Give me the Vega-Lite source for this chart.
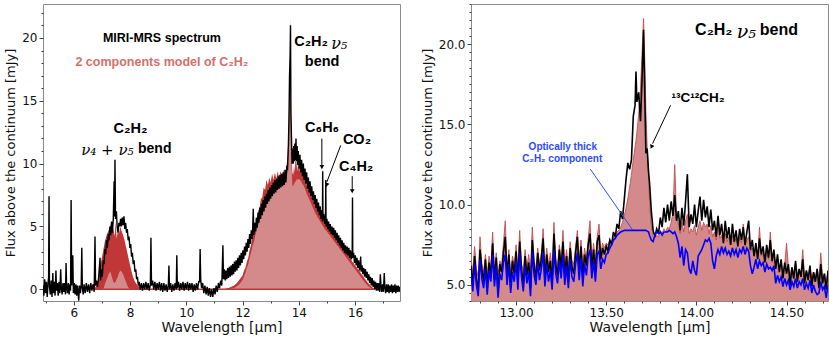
{
"$schema": "https://vega.github.io/schema/vega-lite/v6.json",
"padding": {"left": 4, "top": 3, "right": 0, "bottom": 0},
"spacing": 19,
"config": {
 "view": {"stroke": "#8a8a8a", "strokeWidth": 1},
 "axis": {"domain": false, "grid": false, "labelFont": "DejaVu Sans", "labelFontSize": 12, "labelColor": "#111", "titleFont": "DejaVu Sans", "titleFontWeight": "normal", "titleColor": "#111", "tickColor": "#444", "labelPadding": 2, "labelFlush": false, "tickSize": 4},
 "text": {"font": "Liberation Sans", "fontWeight": "bold"}
},
"datasets": {
 "one": [{}],
 "leftObs": [
  {"w":4.9,"f":0.3},{"w":4.93,"f":-0.5},{"w":4.96,"f":0.8},{"w":4.99,"f":-0.3},{"w":5.02,"f":0.6},{"w":5.05,"f":-0.6},{"w":5.08,"f":0.5},{"w":5.1,"f":1.0},{"w":5.115,"f":7.4},{"w":5.13,"f":0.2},{"w":5.16,"f":-0.4},{"w":5.19,"f":0.7},{"w":5.22,"f":-0.6},{"w":5.25,"f":1.3},{"w":5.27,"f":-0.3},{"w":5.3,"f":0.6},{"w":5.33,"f":-0.5},{"w":5.36,"f":1.5},{"w":5.38,"f":-0.1},{"w":5.41,"f":0.5},{"w":5.44,"f":-0.5},{"w":5.47,"f":0.6},{"w":5.5,"f":-0.3},{"w":5.53,"f":1.6},{"w":5.55,"f":0.1},{"w":5.58,"f":-0.4},{"w":5.61,"f":0.5},{"w":5.64,"f":-0.2},{"w":5.67,"f":0.5},{"w":5.7,"f":-0.4},{"w":5.72,"f":2.1},{"w":5.74,"f":0.2},{"w":5.77,"f":-0.3},{"w":5.8,"f":0.5},{"w":5.83,"f":-0.4},{"w":5.86,"f":0.4},{"w":5.88,"f":-0.1},{"w":5.9,"f":7.1},{"w":5.92,"f":0.3},{"w":5.96,"f":2.7},{"w":5.98,"f":-0.3},{"w":6.01,"f":0.5},{"w":6.04,"f":-0.4},{"w":6.07,"f":0.4},{"w":6.1,"f":-0.5},{"w":6.13,"f":0.3},{"w":6.17,"f":-0.9},{"w":6.2,"f":0.3},{"w":6.23,"f":-0.3},{"w":6.26,"f":0.4},{"w":6.28,"f":3.3},{"w":6.3,"f":0.1},{"w":6.33,"f":-0.4},{"w":6.36,"f":0.4},{"w":6.4,"f":-0.3},{"w":6.44,"f":0.5},{"w":6.48,"f":-0.2},{"w":6.52,"f":0.4},{"w":6.56,"f":-0.3},{"w":6.6,"f":0.5},{"w":6.64,"f":-0.1},{"w":6.68,"f":0.4},{"w":6.72,"f":-0.2},{"w":6.75,"f":4.2},{"w":6.77,"f":0.3},{"w":6.8,"f":0.7},{"w":6.84,"f":0.2},{"w":6.88,"f":1.0},{"w":6.93,"f":2.5},{"w":6.95,"f":0.7},{"w":6.98,"f":1.6},{"w":7.01,"f":1.0},{"w":7.04,"f":2.3},{"w":7.07,"f":2.0},{"w":7.1,"f":3.2},{"w":7.13,"f":2.8},{"w":7.16,"f":3.9},{"w":7.19,"f":3.3},{"w":7.22,"f":4.4},{"w":7.25,"f":3.9},{"w":7.28,"f":5.0},{"w":7.31,"f":4.3},{"w":7.34,"f":5.4},{"w":7.37,"f":4.5},{"w":7.4,"f":5.6},{"w":7.43,"f":8.6},{"w":7.445,"f":5.8},{"w":7.46,"f":10.3},{"w":7.48,"f":5.6},{"w":7.51,"f":6.2},{"w":7.54,"f":4.9},{"w":7.57,"f":4.5},{"w":7.6,"f":5.3},{"w":7.63,"f":5.0},{"w":7.66,"f":5.6},{"w":7.69,"f":5.0},{"w":7.72,"f":5.7},{"w":7.75,"f":5.1},{"w":7.78,"f":5.8},{"w":7.81,"f":4.8},{"w":7.84,"f":5.3},{"w":7.87,"f":4.5},{"w":7.9,"f":4.8},{"w":7.93,"f":3.9},{"w":7.96,"f":4.2},{"w":7.99,"f":3.3},{"w":8.02,"f":3.6},{"w":8.05,"f":2.6},{"w":8.08,"f":2.9},{"w":8.11,"f":2.0},{"w":8.14,"f":2.3},{"w":8.17,"f":1.4},{"w":8.2,"f":1.6},{"w":8.23,"f":0.8},{"w":8.26,"f":1.0},{"w":8.29,"f":0.3},{"w":8.32,"f":0.6},{"w":8.36,"f":0.0},{"w":8.4,"f":0.5},{"w":8.44,"f":-0.1},{"w":8.48,"f":0.5},{"w":8.52,"f":0.0},{"w":8.56,"f":0.6},{"w":8.6,"f":0.0},{"w":8.64,"f":0.5},{"w":8.68,"f":-0.1},{"w":8.72,"f":0.4},{"w":8.74,"f":4.1},{"w":8.76,"f":0.3},{"w":8.8,"f":0.7},{"w":8.84,"f":0.0},{"w":8.88,"f":0.6},{"w":8.92,"f":-0.1},{"w":8.96,"f":0.5},{"w":9.0,"f":0.0},{"w":9.04,"f":0.6},{"w":9.08,"f":-0.1},{"w":9.12,"f":0.5},{"w":9.16,"f":-0.2},{"w":9.2,"f":0.5},{"w":9.24,"f":-0.1},{"w":9.28,"f":0.4},{"w":9.32,"f":-0.2},{"w":9.36,"f":0.4},{"w":9.38,"f":1.9},{"w":9.4,"f":0.0},{"w":9.44,"f":0.5},{"w":9.48,"f":-0.2},{"w":9.52,"f":0.4},{"w":9.56,"f":-0.1},{"w":9.6,"f":0.5},{"w":9.64,"f":0.0},{"w":9.66,"f":2.7},{"w":9.68,"f":0.1},{"w":9.72,"f":0.6},{"w":9.76,"f":-0.1},{"w":9.8,"f":0.5},{"w":9.84,"f":0.0},{"w":9.88,"f":0.6},{"w":9.92,"f":-0.1},{"w":9.96,"f":0.5},{"w":10.0,"f":0.0},{"w":10.04,"f":0.6},{"w":10.08,"f":-0.1},{"w":10.12,"f":0.5},{"w":10.16,"f":0.0},{"w":10.2,"f":0.5},{"w":10.24,"f":-0.2},{"w":10.28,"f":0.4},{"w":10.32,"f":-0.1},{"w":10.36,"f":0.5},{"w":10.4,"f":0.0},{"w":10.44,"f":0.6},{"w":10.47,"f":0.6},{"w":10.49,"f":3.2},{"w":10.51,"f":0.8},{"w":10.54,"f":0.1},{"w":10.58,"f":0.5},{"w":10.62,"f":-0.3},{"w":10.66,"f":0.3},{"w":10.7,"f":-0.4},{"w":10.74,"f":0.2},{"w":10.78,"f":-0.5},{"w":10.82,"f":0.1},{"w":10.86,"f":-0.6},{"w":10.9,"f":0.0},{"w":10.94,"f":-0.6},{"w":10.98,"f":0.1},{"w":11.02,"f":-0.4},{"w":11.06,"f":0.3},{"w":11.1,"f":-0.2},{"w":11.14,"f":0.5},{"w":11.18,"f":0.1},{"w":11.22,"f":0.7},{"w":11.26,"f":0.3},{"w":11.3,"f":3.5},
  {"w":11.32,"f":0.8},{"w":11.35,"f":1.6},{"w":11.38,"f":0.7},{"w":11.41,"f":1.5},{"w":11.44,"f":0.8},{"w":11.47,"f":1.7},{"w":11.5,"f":0.9},{"w":11.53,"f":1.8},{"w":11.56,"f":1.0},{"w":11.59,"f":1.9},{"w":11.62,"f":1.1},{"w":11.65,"f":2.0},{"w":11.68,"f":1.2},{"w":11.71,"f":2.2},{"w":11.74,"f":1.4},{"w":11.77,"f":2.3},{"w":11.8,"f":1.5},{"w":11.83,"f":2.5},{"w":11.86,"f":1.7},{"w":11.89,"f":2.7},{"w":11.92,"f":1.9},{"w":11.95,"f":2.9},{"w":11.98,"f":2.1},{"w":12.01,"f":3.1},{"w":12.04,"f":2.4},{"w":12.07,"f":3.4},{"w":12.1,"f":2.7},{"w":12.13,"f":3.7},{"w":12.16,"f":3.0},{"w":12.19,"f":4.0},{"w":12.22,"f":3.3},{"w":12.25,"f":4.4},{"w":12.28,"f":3.6},{"w":12.31,"f":4.7},{"w":12.34,"f":4.0},{"w":12.36,"f":4.9},{"w":12.38,"f":6.4},{"w":12.4,"f":4.3},{"w":12.43,"f":5.3},{"w":12.46,"f":4.6},{"w":12.49,"f":5.7},{"w":12.52,"f":4.9},{"w":12.55,"f":6.1},{"w":12.58,"f":5.3},{"w":12.61,"f":6.5},{"w":12.64,"f":5.6},{"w":12.67,"f":6.8},{"w":12.7,"f":5.9},{"w":12.73,"f":7.1},{"w":12.76,"f":6.2},{"w":12.79,"f":7.4},{"w":12.82,"f":6.5},{"w":12.85,"f":7.6},{"w":12.88,"f":6.8},{"w":12.91,"f":7.9},{"w":12.94,"f":7.0},{"w":12.97,"f":8.1},{"w":13.0,"f":7.2},{"w":13.03,"f":8.3},{"w":13.06,"f":7.4},{"w":13.09,"f":8.5},{"w":13.12,"f":7.6},{"w":13.15,"f":8.7},{"w":13.18,"f":7.7},{"w":13.21,"f":8.8},{"w":13.24,"f":7.9},{"w":13.27,"f":9.0},{"w":13.3,"f":8.0},{"w":13.33,"f":9.1},{"w":13.36,"f":8.1},{"w":13.39,"f":9.2},{"w":13.42,"f":8.2},{"w":13.45,"f":9.3},{"w":13.48,"f":8.3},{"w":13.51,"f":9.5},{"w":13.54,"f":8.5},{"w":13.57,"f":9.7},{"w":13.6,"f":9.6},{"w":13.63,"f":11.5},{"w":13.65,"f":13.5},{"w":13.67,"f":17.0},{"w":13.69,"f":18.5},{"w":13.705,"f":21.0},{"w":13.72,"f":14.0},{"w":13.74,"f":12.0},{"w":13.76,"f":10.0},{"w":13.78,"f":11.2},{"w":13.8,"f":10.0},{"w":13.82,"f":11.4},{"w":13.84,"f":10.2},{"w":13.86,"f":11.6},{"w":13.88,"f":10.3},{"w":13.9,"f":12.0},{"w":13.92,"f":10.2},{"w":13.94,"f":11.4},{"w":13.96,"f":9.9},{"w":13.98,"f":11.0},{"w":14.01,"f":9.6},{"w":14.04,"f":10.7},{"w":14.07,"f":9.3},{"w":14.1,"f":10.3},{"w":14.13,"f":9.0},{"w":14.16,"f":10.0},{"w":14.19,"f":8.7},{"w":14.22,"f":9.6},{"w":14.25,"f":8.4},{"w":14.28,"f":9.3},{"w":14.31,"f":8.0},{"w":14.34,"f":8.9},{"w":14.37,"f":7.7},{"w":14.4,"f":8.6},{"w":14.43,"f":7.4},{"w":14.46,"f":8.2},{"w":14.49,"f":7.1},{"w":14.52,"f":7.8},{"w":14.55,"f":6.8},{"w":14.58,"f":7.5},{"w":14.61,"f":6.5},{"w":14.64,"f":7.2},{"w":14.67,"f":6.2},{"w":14.7,"f":6.9},{"w":14.73,"f":5.9},{"w":14.76,"f":6.6},{"w":14.79,"f":5.6},{"w":14.82,"f":6.3},{"w":14.84,"f":5.4},{"w":14.85,"f":9.4},{"w":14.86,"f":5.5},{"w":14.89,"f":6.0},{"w":14.92,"f":5.2},{"w":14.95,"f":5.8},{"w":14.96,"f":8.7},{"w":14.97,"f":5.0},{"w":15.0,"f":5.6},{"w":15.03,"f":4.8},{"w":15.06,"f":5.4},{"w":15.09,"f":4.6},{"w":15.12,"f":5.2},{"w":15.15,"f":4.4},{"w":15.18,"f":5.0},{"w":15.21,"f":4.3},{"w":15.24,"f":4.9},{"w":15.27,"f":4.1},{"w":15.3,"f":4.7},{"w":15.33,"f":3.9},{"w":15.36,"f":4.5},{"w":15.39,"f":3.7},{"w":15.42,"f":4.3},{"w":15.45,"f":3.5},{"w":15.48,"f":4.1},{"w":15.51,"f":3.3},{"w":15.54,"f":3.9},{"w":15.57,"f":3.1},{"w":15.6,"f":3.7},{"w":15.63,"f":2.9},{"w":15.66,"f":3.5},{"w":15.69,"f":2.8},{"w":15.72,"f":3.4},{"w":15.75,"f":2.7},{"w":15.78,"f":3.3},{"w":15.81,"f":2.5},{"w":15.84,"f":3.1},{"w":15.87,"f":2.4},{"w":15.9,"f":2.9},{"w":15.91,"f":7.3},{"w":15.92,"f":2.5},{"w":15.95,"f":2.9},{"w":15.98,"f":2.1},{"w":16.01,"f":2.7},{"w":16.04,"f":1.9},{"w":16.07,"f":2.5},{"w":16.1,"f":1.7},{"w":16.13,"f":2.3},{"w":16.16,"f":1.5},{"w":16.19,"f":2.1},{"w":16.2,"f":2.6},{"w":16.22,"f":1.4},{"w":16.25,"f":1.9},{"w":16.28,"f":1.2},{"w":16.31,"f":1.7},{"w":16.34,"f":1.0},{"w":16.37,"f":1.6},{"w":16.4,"f":0.9},{"w":16.43,"f":1.4},{"w":16.46,"f":0.7},{"w":16.49,"f":1.2},{"w":16.52,"f":0.5},{"w":16.55,"f":1.0},{"w":16.58,"f":0.3},{"w":16.61,"f":0.9},{"w":16.64,"f":0.2},{"w":16.67,"f":0.7},{"w":16.7,"f":0.0},{"w":16.73,"f":0.6},{"w":16.76,"f":-0.1},{"w":16.79,"f":0.5},{"w":16.82,"f":-0.1},{"w":16.85,"f":0.5},{"w":16.88,"f":-0.2},{"w":16.9,"f":1.2},{"w":16.92,"f":0.4},{"w":16.95,"f":-0.2},{"w":16.98,"f":0.4},{"w":17.01,"f":-0.2},{"w":17.04,"f":1.3},{"w":17.06,"f":0.2},{"w":17.09,"f":-0.3},{"w":17.12,"f":0.4},{"w":17.15,"f":-0.2},{"w":17.18,"f":0.4},{"w":17.21,"f":-0.3},{"w":17.24,"f":0.3},{"w":17.27,"f":-0.2},{"w":17.3,"f":0.4},{"w":17.33,"f":-0.3},{"w":17.36,"f":0.3},{"w":17.39,"f":-0.2},{"w":17.42,"f":0.4},{"w":17.45,"f":-0.3},{"w":17.48,"f":0.3},{"w":17.51,"f":-0.2},{"w":17.54,"f":0.3},{"w":17.57,"f":-0.2},{"w":17.6,"f":0.2}
 ],
 "leftModel": [
  {"w":6.72,"top":0,"inner":0},{"w":6.8,"top":0.3,"inner":0},{"w":6.86,"top":0.8,"inner":0},{"w":6.92,"top":1.5,"inner":0},{"w":6.97,"top":2.2,"inner":0},{"w":7.02,"top":2.8,"inner":0},{"w":7.06,"top":3.3,"inner":0.1},{"w":7.1,"top":3.8,"inner":0.4},{"w":7.15,"top":4.2,"inner":0.7},{"w":7.2,"top":4.5,"inner":1.0},{"w":7.25,"top":4.8,"inner":1.3},{"w":7.3,"top":5.1,"inner":1.4},{"w":7.35,"top":5.3,"inner":1.0},{"w":7.4,"top":4.8,"inner":0.6},{"w":7.45,"top":4.2,"inner":0.5},{"w":7.48,"top":5.4,"inner":0.6},{"w":7.52,"top":4.0,"inner":0.8},{"w":7.56,"top":4.7,"inner":1.0},{"w":7.6,"top":4.4,"inner":1.3},{"w":7.65,"top":5.0,"inner":1.5},{"w":7.7,"top":4.6,"inner":1.4},{"w":7.75,"top":4.3,"inner":1.2},{"w":7.8,"top":3.9,"inner":0.9},{"w":7.85,"top":3.4,"inner":0.6},{"w":7.9,"top":2.9,"inner":0.3},{"w":7.95,"top":2.4,"inner":0.1},{"w":8.0,"top":1.9,"inner":0},{"w":8.05,"top":1.4,"inner":0},{"w":8.1,"top":1.0,"inner":0},{"w":8.15,"top":0.7,"inner":0},{"w":8.2,"top":0.5,"inner":0},{"w":8.25,"top":0.35,"inner":0},{"w":8.3,"top":0.25,"inner":0},{"w":8.35,"top":0.15,"inner":0},{"w":8.42,"top":0,"inner":0},
  {"w":11.3,"top":0,"inner":0},{"w":11.5,"top":0.1,"inner":0},{"w":11.7,"top":0.3,"inner":0.1},{"w":11.8,"top":0.5,"inner":0.25},{"w":11.9,"top":0.8,"inner":0.45},{"w":12.0,"top":1.1,"inner":0.75},{"w":12.05,"top":1.5,"inner":1.0},{"w":12.1,"top":1.7,"inner":1.3},{"w":12.15,"top":2.2,"inner":1.7},{"w":12.2,"top":2.5,"inner":2.0},{"w":12.25,"top":3.1,"inner":2.5},{"w":12.3,"top":3.5,"inner":2.9},{"w":12.35,"top":4.2,"inner":3.4},{"w":12.38,"top":5.8,"inner":3.6},{"w":12.41,"top":4.5,"inner":3.8},{"w":12.45,"top":5.2,"inner":4.3},{"w":12.5,"top":5.5,"inner":4.7},{"w":12.55,"top":6.2,"inner":5.1},{"w":12.6,"top":6.4,"inner":5.5},{"w":12.65,"top":7.2,"inner":5.9},{"w":12.7,"top":7.3,"inner":6.3},{"w":12.75,"top":8.1,"inner":6.6},{"w":12.8,"top":7.9,"inner":6.9},{"w":12.85,"top":8.7,"inner":7.2},{"w":12.9,"top":8.3,"inner":7.4},{"w":12.95,"top":8.9,"inner":7.6},{"w":13.0,"top":8.5,"inner":7.8},{"w":13.05,"top":9.2,"inner":7.9},{"w":13.1,"top":8.7,"inner":8.0},{"w":13.15,"top":9.3,"inner":8.1},{"w":13.2,"top":8.8,"inner":8.15},{"w":13.25,"top":9.4,"inner":8.2},{"w":13.3,"top":8.9,"inner":8.25},{"w":13.35,"top":9.4,"inner":8.3},{"w":13.4,"top":9.0,"inner":8.35},{"w":13.45,"top":9.5,"inner":8.4},{"w":13.5,"top":9.1,"inner":8.45},{"w":13.55,"top":9.6,"inner":8.6},{"w":13.6,"top":10.6,"inner":9.4},{"w":13.63,"top":12.2,"inner":11.0},{"w":13.66,"top":15.2,"inner":14.0},{"w":13.68,"top":18.0,"inner":17.0},{"w":13.7,"top":21.7,"inner":20.5},{"w":13.72,"top":15.5,"inner":14.2},{"w":13.74,"top":11.2,"inner":10.0},{"w":13.77,"top":9.3,"inner":8.3},{"w":13.8,"top":9.1,"inner":8.2},{"w":13.83,"top":9.8,"inner":8.4},{"w":13.86,"top":9.3,"inner":8.5},{"w":13.88,"top":11.5,"inner":8.6},{"w":13.9,"top":9.6,"inner":8.6},{"w":13.93,"top":10.3,"inner":8.8},{"w":13.96,"top":9.4,"inner":8.7},{"w":14.0,"top":9.9,"inner":8.8},{"w":14.04,"top":9.4,"inner":8.7},{"w":14.08,"top":9.8,"inner":8.6},{"w":14.12,"top":9.0,"inner":8.4},{"w":14.16,"top":9.3,"inner":8.3},{"w":14.2,"top":8.7,"inner":8.1},{"w":14.24,"top":8.9,"inner":7.9},{"w":14.28,"top":8.2,"inner":7.6},{"w":14.32,"top":8.4,"inner":7.4},{"w":14.36,"top":7.8,"inner":7.2},{"w":14.4,"top":7.9,"inner":7.0},{"w":14.44,"top":7.3,"inner":6.8},{"w":14.48,"top":7.5,"inner":6.6},{"w":14.52,"top":6.9,"inner":6.4},{"w":14.56,"top":7.1,"inner":6.2},{"w":14.6,"top":6.6,"inner":6.0},{"w":14.64,"top":6.7,"inner":5.85},{"w":14.68,"top":6.3,"inner":5.7},{"w":14.72,"top":6.4,"inner":5.55},{"w":14.76,"top":6.0,"inner":5.4},{"w":14.8,"top":6.1,"inner":5.25},{"w":14.84,"top":5.7,"inner":5.1},{"w":14.88,"top":5.8,"inner":4.95},{"w":14.92,"top":5.5,"inner":4.8},{"w":14.96,"top":5.6,"inner":4.7},{"w":15.0,"top":5.3,"inner":4.6},{"w":15.05,"top":5.2,"inner":4.45},{"w":15.1,"top":4.9,"inner":4.3},{"w":15.15,"top":4.9,"inner":4.15},{"w":15.2,"top":4.6,"inner":4.0},{"w":15.25,"top":4.5,"inner":3.85},{"w":15.3,"top":4.2,"inner":3.7},{"w":15.35,"top":4.2,"inner":3.55},{"w":15.4,"top":3.9,"inner":3.4},{"w":15.45,"top":3.8,"inner":3.25},{"w":15.5,"top":3.6,"inner":3.1},{"w":15.55,"top":3.5,"inner":2.95},{"w":15.6,"top":3.3,"inner":2.8},{"w":15.65,"top":3.2,"inner":2.65},{"w":15.7,"top":2.9,"inner":2.5},{"w":15.75,"top":2.8,"inner":2.35},{"w":15.8,"top":2.6,"inner":2.2},{"w":15.85,"top":2.5,"inner":2.05},{"w":15.9,"top":2.2,"inner":1.9},{"w":15.95,"top":2.1,"inner":1.75},{"w":16.0,"top":1.9,"inner":1.6},{"w":16.05,"top":1.8,"inner":1.45},{"w":16.1,"top":1.6,"inner":1.3},{"w":16.15,"top":1.5,"inner":1.15},{"w":16.2,"top":1.3,"inner":1.0},{"w":16.25,"top":1.15,"inner":0.85},{"w":16.3,"top":1.0,"inner":0.7},{"w":16.35,"top":0.85,"inner":0.55},{"w":16.4,"top":0.7,"inner":0.42},{"w":16.45,"top":0.55,"inner":0.3},{"w":16.5,"top":0.42,"inner":0.2},{"w":16.55,"top":0.3,"inner":0.12},{"w":16.6,"top":0.18,"inner":0.05},{"w":16.7,"top":0,"inner":0}
 ],
 "right": [
  {"w":12.75,"o":6.2,"m":6.6,"t":5.6},{"w":12.76,"o":5.0,"m":5.8,"t":4.6},{"w":12.77,"o":6.8,"m":7.4,"t":6.3},{"w":12.78,"o":5.4,"m":6.0,"t":5.0},{"w":12.79,"o":4.6,"m":5.5,"t":4.3},{"w":12.8,"o":7.2,"m":8.0,"t":6.6},{"w":12.81,"o":6.0,"m":6.3,"t":5.4},{"w":12.82,"o":5.2,"m":5.8,"t":4.8},{"w":12.83,"o":6.6,"m":6.9,"t":6.0},{"w":12.84,"o":4.8,"m":5.6,"t":4.4},{"w":12.85,"o":6.4,"m":6.8,"t":5.9},{"w":12.86,"o":5.6,"m":6.1,"t":5.2},{"w":12.87,"o":7.6,"m":8.3,"t":6.9},{"w":12.88,"o":5.3,"m":5.9,"t":4.9},{"w":12.89,"o":6.7,"m":7.0,"t":6.2},{"w":12.9,"o":4.5,"m":5.6,"t":4.2},{"w":12.91,"o":6.3,"m":6.5,"t":5.7},{"w":12.92,"o":5.8,"m":6.2,"t":5.3},{"w":12.93,"o":7.0,"m":7.6,"t":6.4},{"w":12.94,"o":8.0,"m":9.0,"t":6.9},{"w":12.95,"o":5.5,"m":6.0,"t":5.0},{"w":12.96,"o":6.9,"m":7.2,"t":6.3},{"w":12.97,"o":4.9,"m":5.8,"t":4.5},{"w":12.98,"o":6.5,"m":6.8,"t":5.8},{"w":12.99,"o":5.7,"m":6.2,"t":5.2},{"w":13.0,"o":7.1,"m":7.5,"t":6.5},{"w":13.01,"o":5.2,"m":6.0,"t":4.7},{"w":13.02,"o":7.7,"m":8.4,"t":7.0},{"w":13.03,"o":6.0,"m":6.3,"t":5.5},{"w":13.04,"o":5.0,"m":5.9,"t":4.6},{"w":13.05,"o":6.8,"m":7.2,"t":6.2},{"w":13.06,"o":5.6,"m":6.1,"t":5.1},{"w":13.07,"o":6.4,"m":6.9,"t":5.8},{"w":13.08,"o":4.8,"m":5.9,"t":4.3},{"w":13.09,"o":7.8,"m":8.6,"t":7.1},{"w":13.1,"o":6.2,"m":6.5,"t":5.6},{"w":13.11,"o":5.4,"m":6.0,"t":5.0},{"w":13.12,"o":7.0,"m":7.3,"t":6.4},{"w":13.13,"o":5.9,"m":6.3,"t":5.3},{"w":13.14,"o":6.6,"m":7.0,"t":6.0},{"w":13.15,"o":7.9,"m":8.5,"t":7.0},{"w":13.16,"o":5.3,"m":6.1,"t":4.9},{"w":13.17,"o":6.9,"m":7.3,"t":6.3},{"w":13.18,"o":5.8,"m":6.2,"t":5.2},{"w":13.19,"o":6.5,"m":7.0,"t":5.9},{"w":13.2,"o":5.1,"m":6.0,"t":4.7},{"w":13.21,"o":8.2,"m":8.9,"t":7.2},{"w":13.22,"o":6.3,"m":6.6,"t":5.7},{"w":13.23,"o":5.6,"m":6.2,"t":5.1},{"w":13.24,"o":7.2,"m":7.5,"t":6.5},{"w":13.25,"o":6.0,"m":6.4,"t":5.4},{"w":13.26,"o":7.7,"m":8.4,"t":6.9},{"w":13.27,"o":5.5,"m":6.2,"t":5.0},{"w":13.28,"o":6.8,"m":7.2,"t":6.2},{"w":13.29,"o":5.2,"m":6.1,"t":4.8},{"w":13.3,"o":7.3,"m":7.7,"t":6.6},{"w":13.31,"o":6.1,"m":6.5,"t":5.5},{"w":13.32,"o":5.7,"m":6.3,"t":5.2},{"w":13.33,"o":7.0,"m":7.4,"t":6.3},{"w":13.34,"o":8.0,"m":8.4,"t":7.0},{"w":13.35,"o":5.9,"m":6.4,"t":5.3},{"w":13.36,"o":7.4,"m":7.8,"t":6.7},{"w":13.37,"o":5.4,"m":6.3,"t":4.9},{"w":13.38,"o":6.9,"m":7.3,"t":6.3},{"w":13.39,"o":6.2,"m":6.6,"t":5.6},{"w":13.4,"o":7.5,"m":7.9,"t":6.8},{"w":13.41,"o":8.2,"m":9.0,"t":7.2},{"w":13.42,"o":6.0,"m":6.6,"t":5.4},{"w":13.43,"o":7.2,"m":7.6,"t":6.5},{"w":13.44,"o":5.8,"m":6.5,"t":5.2},{"w":13.45,"o":7.7,"m":8.0,"t":6.9},{"w":13.46,"o":8.1,"m":8.8,"t":7.1},{"w":13.47,"o":6.6,"m":7.0,"t":6.0},{"w":13.48,"o":7.3,"m":7.6,"t":6.6},{"w":13.49,"o":6.9,"m":7.3,"t":6.4},{"w":13.5,"o":7.4,"m":7.6,"t":6.9},{"w":13.51,"o":7.1,"m":7.5,"t":7.0},{"w":13.52,"o":7.8,"m":7.8,"t":7.3},{"w":13.53,"o":7.5,"m":7.7,"t":7.5},{"w":13.54,"o":8.3,"m":8.0,"t":7.8},{"w":13.55,"o":8.0,"m":8.1,"t":7.9},{"w":13.56,"o":8.8,"m":8.3,"t":8.1},{"w":13.57,"o":8.5,"m":8.4,"t":8.2},{"w":13.58,"o":9.6,"m":8.6,"t":8.3},{"w":13.59,"o":9.1,"m":8.9,"t":8.35},{"w":13.6,"o":10.3,"m":9.3,"t":8.4},{"w":13.61,"o":11.6,"m":9.8,"t":8.4},{"w":13.62,"o":12.6,"m":10.4,"t":8.4},{"w":13.63,"o":12.2,"m":11.1,"t":8.4},{"w":13.64,"o":12.8,"m":11.9,"t":8.4},{"w":13.65,"o":15.5,"m":12.8,"t":8.4},{"w":13.66,"o":16.2,"m":13.6,"t":8.4},{"w":13.665,"o":18.3,"m":14.0,"t":8.4},{"w":13.67,"o":16.4,"m":14.5,"t":8.4},{"w":13.68,"o":17.0,"m":15.6,"t":8.4},{"w":13.69,"o":15.2,"m":17.2,"t":8.4},{"w":13.7,"o":18.2,"m":19.8,"t":8.4},{"w":13.707,"o":20.9,"m":21.6,"t":8.4},{"w":13.715,"o":16.2,"m":18.5,"t":8.4},{"w":13.72,"o":13.2,"m":15.8,"t":8.4},{"w":13.727,"o":13.5,"m":13.6,"t":8.35},{"w":13.735,"o":12.0,"m":11.8,"t":8.3},{"w":13.74,"o":11.4,"m":10.2,"t":8.1},{"w":13.75,"o":9.6,"m":8.7,"t":7.8},{"w":13.76,"o":8.4,"m":8.0,"t":7.7},{"w":13.77,"o":8.0,"m":7.9,"t":8.1},{"w":13.78,"o":8.5,"m":8.1,"t":8.3},{"w":13.79,"o":8.2,"m":8.0,"t":8.2},{"w":13.8,"o":9.2,"m":8.4,"t":8.3},{"w":13.81,"o":8.6,"m":8.2,"t":8.1},{"w":13.82,"o":9.8,"m":8.5,"t":8.3},{"w":13.83,"o":8.9,"m":8.3,"t":8.3},{"w":13.84,"o":10.0,"m":8.6,"t":8.3},{"w":13.85,"o":9.0,"m":8.5,"t":8.4},{"w":13.86,"o":10.2,"m":8.9,"t":8.3},{"w":13.87,"o":9.3,"m":9.5,"t":8.2},{"w":13.88,"o":10.6,"m":12.5,"t":8.3},{"w":13.89,"o":9.0,"m":9.2,"t":8.0},{"w":13.9,"o":9.6,"m":8.8,"t":7.6},{"w":13.91,"o":8.4,"m":8.2,"t":6.7},{"w":13.92,"o":9.8,"m":8.9,"t":7.4},{"w":13.93,"o":8.7,"m":8.3,"t":6.2},{"w":13.94,"o":10.2,"m":9.0,"t":7.2},{"w":13.95,"o":11.9,"m":9.4,"t":7.0},{"w":13.96,"o":8.6,"m":8.2,"t":6.0},{"w":13.97,"o":9.4,"m":8.5,"t":5.7},{"w":13.98,"o":8.8,"m":8.3,"t":6.5},{"w":13.99,"o":10.0,"m":8.7,"t":5.9},{"w":14.0,"o":8.6,"m":8.1,"t":5.6},{"w":14.01,"o":9.6,"m":8.6,"t":6.8},{"w":14.02,"o":10.5,"m":9.0,"t":7.0},{"w":14.03,"o":9.0,"m":8.4,"t":7.2},{"w":14.04,"o":10.3,"m":8.9,"t":7.5},{"w":14.05,"o":9.2,"m":8.6,"t":7.8},{"w":14.06,"o":9.9,"m":8.8,"t":7.7},{"w":14.07,"o":8.6,"m":8.2,"t":7.9},{"w":14.08,"o":9.7,"m":8.7,"t":7.6},{"w":14.09,"o":8.4,"m":8.0,"t":6.5},{"w":14.1,"o":9.0,"m":8.3,"t":6.0},{"w":14.11,"o":8.0,"m":7.8,"t":6.8},{"w":14.12,"o":9.3,"m":9.2,"t":7.2},{"w":14.13,"o":8.1,"m":7.9,"t":6.9},{"w":14.14,"o":8.8,"m":8.1,"t":7.4},{"w":14.15,"o":7.6,"m":7.6,"t":7.0},{"w":14.16,"o":9.0,"m":8.2,"t":7.3},{"w":14.17,"o":7.9,"m":7.7,"t":6.9},{"w":14.18,"o":8.6,"m":8.0,"t":7.1},{"w":14.19,"o":7.5,"m":7.5,"t":6.8},{"w":14.2,"o":8.8,"m":8.1,"t":7.3},{"w":14.21,"o":7.7,"m":7.6,"t":6.9},{"w":14.22,"o":8.4,"m":7.9,"t":7.2},{"w":14.23,"o":7.4,"m":7.4,"t":6.7},{"w":14.24,"o":8.5,"m":8.0,"t":7.2},{"w":14.25,"o":7.8,"m":7.6,"t":7.0},{"w":14.26,"o":8.6,"m":8.8,"t":7.4},{"w":14.27,"o":7.5,"m":7.4,"t":6.9},{"w":14.28,"o":8.3,"m":7.8,"t":7.3},{"w":14.29,"o":9.0,"m":8.0,"t":7.1},{"w":14.3,"o":7.2,"m":7.1,"t":6.2},{"w":14.31,"o":7.8,"m":7.3,"t":5.7},{"w":14.32,"o":6.8,"m":6.9,"t":6.1},{"w":14.33,"o":7.6,"m":7.2,"t":6.6},{"w":14.34,"o":6.6,"m":6.7,"t":6.0},{"w":14.35,"o":7.9,"m":8.6,"t":6.5},{"w":14.36,"o":6.9,"m":6.8,"t":6.2},{"w":14.37,"o":7.4,"m":7.0,"t":6.4},{"w":14.38,"o":6.4,"m":6.5,"t":5.8},{"w":14.39,"o":7.5,"m":7.1,"t":6.3},{"w":14.4,"o":6.7,"m":6.6,"t":6.0},{"w":14.41,"o":7.8,"m":8.3,"t":6.1},{"w":14.42,"o":6.5,"m":6.4,"t":5.9},{"w":14.43,"o":7.2,"m":6.8,"t":6.2},{"w":14.44,"o":6.0,"m":6.1,"t":5.1},{"w":14.45,"o":6.9,"m":6.6,"t":5.6},{"w":14.46,"o":5.8,"m":6.0,"t":5.2},{"w":14.47,"o":6.6,"m":6.4,"t":5.5},{"w":14.48,"o":5.4,"m":5.8,"t":4.9},{"w":14.49,"o":6.4,"m":6.3,"t":5.4},{"w":14.5,"o":5.7,"m":7.6,"t":5.0},{"w":14.51,"o":6.3,"m":6.2,"t":5.3},{"w":14.52,"o":5.0,"m":5.6,"t":4.7},{"w":14.53,"o":6.1,"m":6.1,"t":5.2},{"w":14.54,"o":5.4,"m":5.7,"t":4.9},{"w":14.55,"o":6.5,"m":6.4,"t":5.4},{"w":14.56,"o":5.2,"m":5.6,"t":4.8},{"w":14.57,"o":6.0,"m":6.0,"t":5.2},{"w":14.58,"o":5.5,"m":5.8,"t":5.0},{"w":14.59,"o":6.6,"m":7.2,"t":5.4},{"w":14.6,"o":5.1,"m":5.5,"t":4.7},{"w":14.61,"o":5.9,"m":5.9,"t":5.1},{"w":14.62,"o":5.3,"m":5.6,"t":4.8},{"w":14.63,"o":6.2,"m":6.1,"t":5.3},{"w":14.64,"o":4.9,"m":5.4,"t":4.5},{"w":14.65,"o":5.8,"m":5.8,"t":5.0},{"w":14.66,"o":5.2,"m":5.5,"t":4.6},{"w":14.67,"o":6.0,"m":6.0,"t":4.4},{"w":14.68,"o":4.8,"m":5.3,"t":4.5},{"w":14.69,"o":6.3,"m":7.0,"t":5.2},{"w":14.7,"o":5.1,"m":5.4,"t":4.7},{"w":14.71,"o":5.7,"m":5.7,"t":4.9},{"w":14.72,"o":4.7,"m":5.2,"t":4.2},{"w":14.73,"o":5.9,"m":5.8,"t":5.0},{"w":14.74,"o":5.0,"m":5.3,"t":4.6},{"w":14.75,"o":5.6,"m":5.6,"t":4.8}
 ]
},
"hconcat": [
 {
  "width": 357, "height": 297,
  "resolve": {"axis": {"x": "independent", "y": "independent"}},
  "layer": [
   {"layer": [
    {"data": {"name": "leftModel"}, "mark": {"type": "area", "color": "#c13636", "clip": true},
     "encoding": {
      "x": {"field": "w", "type": "quantitative", "scale": {"domain": [4.9, 17.6], "nice": false, "zero": false},
        "axis": {"values": [6,8,10,12,14,16], "orient": "bottom", "title": "Wavelength [μm]", "titleFontSize": 14, "titlePadding": 2}},
      "y": {"field": "top", "type": "quantitative", "scale": {"domain": [-0.93, 22.7], "nice": false, "zero": false},
        "axis": {"values": [0,5,10,15,20], "orient": "left", "title": "Flux above the continuum [mJy]", "titleFontSize": 13, "titlePadding": 4}}
     }},
    {"data": {"name": "leftModel"}, "mark": {"type": "area", "color": "#d48a8a", "clip": true},
     "encoding": {"x": {"field": "w", "type": "quantitative"}, "y": {"field": "inner", "type": "quantitative"}}},
    {"data": {"name": "leftModel"}, "mark": {"type": "rule", "color": "#c13636", "strokeWidth": 1.5},
     "encoding": {"x": {"aggregate": "min", "field": "w", "type": "quantitative"}, "x2": {"aggregate": "max", "field": "w"}, "y": {"datum": 0}}},
    {"data": {"name": "one"}, "mark": {"type": "text", "fontSize": 12.5, "color": "black"}, "encoding": {"x": {"datum": 9.13}, "y": {"datum": 19.98}, "text": {"value": "MIRI-MRS spectrum"}}},
    {"data": {"name": "one"}, "mark": {"type": "text", "fontSize": 12.5, "color": "#d4706b"}, "encoding": {"x": {"datum": 9.13}, "y": {"datum": 18.07}, "text": {"value": "2 components model of C₂H₂"}}},
    {"data": {"name": "one"}, "mark": {"type": "text", "fontSize": 14.5, "color": "black", "align": "right"}, "encoding": {"x": {"datum": 15.04}, "y": {"datum": 19.66}, "text": {"value": "C₂H₂"}}},
    {"data": {"name": "one"}, "mark": {"type": "text", "fontSize": 16, "color": "black", "align": "left", "font": "DejaVu Serif", "fontStyle": "italic", "fontWeight": "normal"}, "encoding": {"x": {"datum": 15.15}, "y": {"datum": 19.5}, "text": {"value": "ν₅"}}},
    {"data": {"name": "one"}, "mark": {"type": "text", "fontSize": 14.5, "color": "black"}, "encoding": {"x": {"datum": 14.83}, "y": {"datum": 18.07}, "text": {"value": "bend"}}},
    {"data": {"name": "one"}, "mark": {"type": "text", "fontSize": 14.5, "color": "black"}, "encoding": {"x": {"datum": 8.01}, "y": {"datum": 12.74}, "text": {"value": "C₂H₂"}}},
    {"data": {"name": "one"}, "mark": {"type": "text", "fontSize": 15, "color": "black", "align": "right", "font": "DejaVu Serif", "fontStyle": "italic", "fontWeight": "normal"}, "encoding": {"x": {"datum": 8.12}, "y": {"datum": 11.1}, "text": {"value": "ν₄ + ν₅"}}},
    {"data": {"name": "one"}, "mark": {"type": "text", "fontSize": 14, "color": "black", "align": "left"}, "encoding": {"x": {"datum": 8.28}, "y": {"datum": 11.15}, "text": {"value": "bend"}}},
    {"data": {"name": "one"}, "mark": {"type": "text", "fontSize": 14.5, "color": "black"}, "encoding": {"x": {"datum": 14.83}, "y": {"datum": 12.82}, "text": {"value": "C₆H₆"}}},
    {"data": {"name": "one"}, "mark": {"type": "text", "fontSize": 14.5, "color": "black"}, "encoding": {"x": {"datum": 16.07}, "y": {"datum": 11.86}, "text": {"value": "CO₂"}}},
    {"data": {"name": "one"}, "mark": {"type": "text", "fontSize": 14.5, "color": "black"}, "encoding": {"x": {"datum": 16.04}, "y": {"datum": 9.72}, "text": {"value": "C₄H₂"}}},
    {"data": {"name": "one"}, "mark": {"type": "rule", "color": "black", "strokeWidth": 1}, "encoding": {"x": {"datum": 14.82}, "x2": {"datum": 14.82}, "y": {"datum": 12.0}, "y2": {"datum": 9.8}}},
    {"data": {"name": "one"}, "mark": {"type": "point", "shape": "triangle-down", "filled": true, "size": 22, "color": "black", "opacity": 1}, "encoding": {"x": {"datum": 14.82}, "y": {"datum": 9.72}}},
    {"data": {"name": "one"}, "mark": {"type": "rule", "color": "black", "strokeWidth": 1}, "encoding": {"x": {"datum": 15.49}, "x2": {"datum": 15.0}, "y": {"datum": 11.45}, "y2": {"datum": 8.55}}},
    {"data": {"name": "one"}, "mark": {"type": "point", "shape": "triangle-down", "filled": true, "size": 22, "color": "black", "opacity": 1, "angle": 18}, "encoding": {"x": {"datum": 14.99}, "y": {"datum": 8.3}}},
    {"data": {"name": "one"}, "mark": {"type": "rule", "color": "black", "strokeWidth": 1}, "encoding": {"x": {"datum": 15.9}, "x2": {"datum": 15.9}, "y": {"datum": 9.0}, "y2": {"datum": 7.9}}},
    {"data": {"name": "one"}, "mark": {"type": "point", "shape": "triangle-down", "filled": true, "size": 22, "color": "black", "opacity": 1}, "encoding": {"x": {"datum": 15.9}, "y": {"datum": 7.8}}}
   ]},
   {"data": {"name": "leftObs"}, "mark": {"type": "line", "color": "black", "strokeWidth": 1.4, "clip": true},
    "encoding": {
     "x": {"field": "w", "type": "quantitative", "scale": {"domain": [4.9, 17.6], "nice": false, "zero": false},
       "axis": {"values": [5,7,9,11,13,15,17], "orient": "bottom", "labels": false, "tickSize": 2, "title": null}},
     "y": {"field": "f", "type": "quantitative", "scale": {"domain": [-0.93, 22.7], "nice": false, "zero": false},
       "axis": {"values": [1,2,3,4,6,7,8,9,11,12,13,14,16,17,18,19,21,22], "orient": "left", "labels": false, "tickSize": 2, "title": null}}
    }}
  ]
 },
 {
  "width": 357, "height": 297,
  "resolve": {"axis": {"x": "independent", "y": "independent"}},
  "layer": [
   {"layer": [
    {"data": {"name": "right"}, "mark": {"type": "area", "color": "#d48a8a", "clip": true},
     "encoding": {
      "x": {"field": "w", "type": "quantitative", "scale": {"domain": [12.75, 14.73], "nice": false, "zero": false},
        "axis": {"values": [13.0,13.5,14.0,14.5], "format": ".2f", "orient": "bottom", "title": "Wavelength [μm]", "titleFontSize": 14, "titlePadding": 2}},
      "y": {"field": "m", "type": "quantitative", "scale": {"domain": [4.0, 22.5], "nice": false, "zero": false},
        "axis": {"values": [5,10,15,20], "format": ".1f", "orient": "left", "title": "Flux above the continuum [mJy]", "titleFontSize": 13, "titlePadding": 4}}
     }},
    {"data": {"name": "right"}, "mark": {"type": "line", "color": "#c24848", "strokeWidth": 1, "opacity": 0.85, "clip": true},
     "encoding": {"x": {"field": "w", "type": "quantitative"}, "y": {"field": "m", "type": "quantitative"}}},
    {"data": {"name": "right"}, "mark": {"type": "line", "color": "black", "strokeWidth": 1.6, "clip": true},
     "encoding": {"x": {"field": "w", "type": "quantitative"}, "y": {"field": "o", "type": "quantitative"}}},
    {"data": {"name": "one"}, "mark": {"type": "text", "fontSize": 16, "color": "black", "align": "right"}, "encoding": {"x": {"datum": 14.2}, "y": {"datum": 20.91}, "text": {"value": "C₂H₂"}}},
    {"data": {"name": "one"}, "mark": {"type": "text", "fontSize": 19, "color": "black", "align": "left", "font": "DejaVu Serif", "fontStyle": "italic", "fontWeight": "normal"}, "encoding": {"x": {"datum": 14.224}, "y": {"datum": 20.75}, "text": {"value": "ν₅"}}},
    {"data": {"name": "one"}, "mark": {"type": "text", "fontSize": 16, "color": "black", "align": "left"}, "encoding": {"x": {"datum": 14.352}, "y": {"datum": 20.91}, "text": {"value": "bend"}}},
    {"data": {"name": "one"}, "mark": {"type": "text", "fontSize": 13.5, "color": "black"}, "encoding": {"x": {"datum": 14.01}, "y": {"datum": 16.62}, "text": {"value": "¹³C¹²CH₂"}}},
    {"data": {"name": "one"}, "mark": {"type": "rule", "color": "black", "strokeWidth": 1}, "encoding": {"x": {"datum": 13.857}, "x2": {"datum": 13.757}, "y": {"datum": 16.19}, "y2": {"datum": 13.8}}},
    {"data": {"name": "one"}, "mark": {"type": "point", "shape": "triangle-down", "filled": true, "size": 22, "color": "black", "opacity": 1, "angle": 24}, "encoding": {"x": {"datum": 13.751}, "y": {"datum": 13.6}}},
    {"data": {"name": "one"}, "mark": {"type": "text", "fontSize": 10, "color": "#2b4cff"}, "encoding": {"x": {"datum": 13.259}, "y": {"datum": 13.58}, "text": {"value": "Optically thick"}}},
    {"data": {"name": "one"}, "mark": {"type": "text", "fontSize": 10, "color": "#2b4cff"}, "encoding": {"x": {"datum": 13.256}, "y": {"datum": 12.83}, "text": {"value": "C₂H₂ component"}}},
    {"data": {"name": "one"}, "mark": {"type": "rule", "color": "#2b4cff", "strokeWidth": 1}, "encoding": {"x": {"datum": 13.412}, "x2": {"datum": 13.645}, "y": {"datum": 12.21}, "y2": {"datum": 8.45}}}
   ]},
   {"data": {"name": "right"}, "mark": {"type": "line", "color": "#0000ff", "strokeWidth": 1.6, "clip": true},
    "encoding": {
     "x": {"field": "w", "type": "quantitative", "scale": {"domain": [12.75, 14.73], "nice": false, "zero": false},
       "axis": {"values": [12.8,12.9,13.1,13.2,13.3,13.4,13.6,13.7,13.8,13.9,14.1,14.2,14.3,14.4,14.6,14.7], "orient": "bottom", "labels": false, "tickSize": 2, "title": null}},
     "y": {"field": "t", "type": "quantitative", "scale": {"domain": [4.0, 22.5], "nice": false, "zero": false},
       "axis": {"values": [4,4.5,5.5,6,6.5,7,7.5,8,8.5,9,9.5,10.5,11,11.5,12,12.5,13,13.5,14,14.5,15.5,16,16.5,17,17.5,18,18.5,19,19.5,20.5,21,21.5,22,22.5], "orient": "left", "labels": false, "tickSize": 2, "title": null}}
    }}
  ]
 }
]
}
